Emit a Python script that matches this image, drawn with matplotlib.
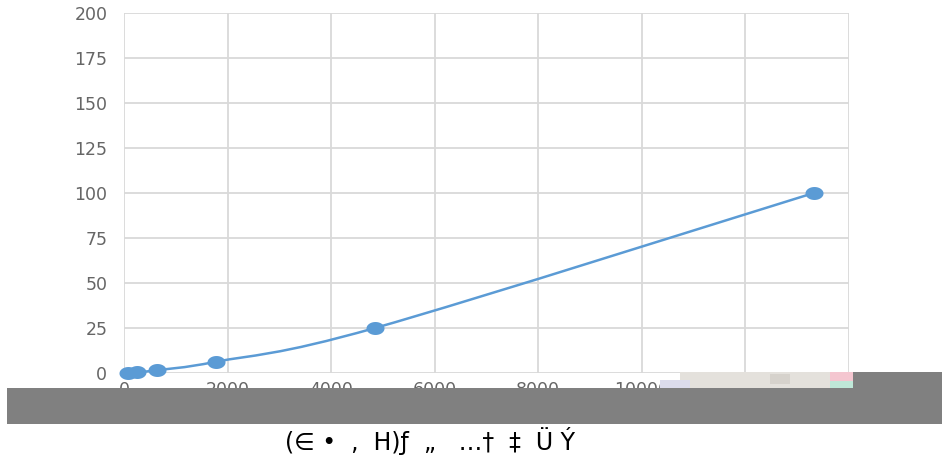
import matplotlib
matplotlib.use("Agg")
import matplotlib.pyplot as plt
from matplotlib.path import Path
from matplotlib.patches import PathPatch, Rectangle
import numpy as np

plt.rcParams["font.family"] = ["DejaVu Sans"]

# Data
x_vals = [77, 251, 637, 1776, 4846, 13320]
y_vals = [0.098, 0.39, 1.56, 6.25, 25, 100]
x_ticks = [0, 2000, 4000, 6000, 8000, 10000, 12000, 14000]
y_ticks = [0, 25, 50, 75, 100, 125, 150, 175, 200]
x_label = "(∈ •  ,  H)ƒ  „   …†  ‡  Ü Ý"

line_color = "#5b9bd5"
grid_color = "#d9d9d9"
text_color = "#666666"

W, H = 942, 459
fig = plt.figure(figsize=(W / 100, H / 100), dpi=100)
ax = fig.add_axes([124 / W, 1 - 373 / H, (849 - 124) / W, (373 - 13) / H])
ax.set_xlim(0, 14000)
ax.set_ylim(0, 200)
ax.set_xticks(x_ticks)
ax.set_yticks(y_ticks)
ax.grid(True, color=grid_color, linewidth=1.3)
ax.set_axisbelow(True)
for s in ax.spines.values():
    s.set_visible(False)
ax.tick_params(length=0, labelsize=12.5, labelcolor=text_color)
ax.tick_params(axis="y", pad=12)
ax.tick_params(axis="x", pad=6)

# smooth curve (Catmull-Rom -> cubic Bezier) through data points
pts = np.column_stack([np.array(x_vals, float), np.array(y_vals, float)])
verts = [pts[0]]
codes = [Path.MOVETO]
n = len(pts)
t = 1 / 6
for i in range(n - 1):
    p0 = pts[i - 1] if i > 0 else pts[i]
    p1 = pts[i]
    p2 = pts[i + 1]
    p3 = pts[i + 2] if i + 2 < n else pts[i + 1]
    c1 = p1 + (p2 - p0) * t
    c2 = p2 - (p3 - p1) * t
    verts += [c1, c2, p2]
    codes += [Path.CURVE4] * 3
ax.add_patch(PathPatch(Path(verts, codes), facecolor="none",
                       edgecolor=line_color, linewidth=1.8, zorder=3))

# slightly wide elliptical marker like the reference
theta = np.linspace(0, 2 * np.pi, 41)
ell = Path(np.column_stack([np.cos(theta), 0.72 * np.sin(theta)]))
ax.plot(x_vals, y_vals, linestyle="none", marker=ell, markersize=13,
        color=line_color, markeredgewidth=0, zorder=4, clip_on=False)

# overlays covering the x tick labels
def frect(x0, y0, x1, y1, color):
    fig.patches.append(Rectangle((x0 / W, 1 - y1 / H), (x1 - x0) / W, (y1 - y0) / H,
                                 transform=fig.transFigure, facecolor=color,
                                 edgecolor="none", zorder=10))

frect(7, 388, 942, 424, "#808080")
frect(853, 372, 942, 388, "#808080")
frect(680, 372, 853, 388, "#e4e1dc")
frect(660, 380, 690, 388, "#dcdcec")
frect(830, 372, 853, 381, "#f4c6d0")
frect(830, 381, 853, 388, "#bfe8d8")
frect(770, 374, 790, 384, "#d6d2cc")

fig.text(285 / W, 1 - 441 / H, x_label, ha="left", va="center",
         fontsize=17, color="#000000")

fig.savefig("out.png", dpi=100)
